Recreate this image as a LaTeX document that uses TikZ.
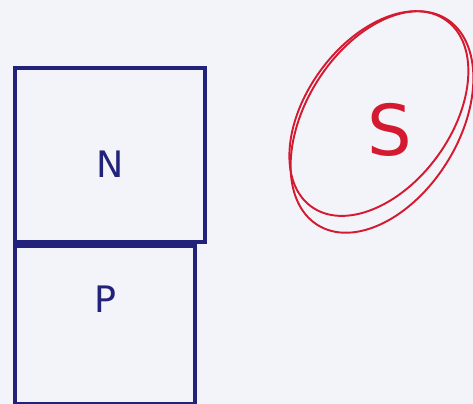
\documentclass[tikz,border=0pt]{standalone}
\usepackage{fontspec}
\setsansfont{DejaVu Sans}
\usetikzlibrary{positioning,calc}
\definecolor{ink}{HTML}{22227A}
\definecolor{pen}{HTML}{D41A30}
\definecolor{paper}{HTML}{F3F4F9}

\begin{document}
\begin{tikzpicture}[
    box/.style={rectangle,draw=ink,line width=2.2pt,inner sep=0pt},
    ring/.style={draw=pen,line width=1.1pt},
    letter/.style={font=\sffamily\huge,text=ink},
  ]
  %% paper
  \fill[paper] (0,0) rectangle (9.46,8.08);
  \useasboundingbox (0,0) rectangle (9.46,8.08);

  %% stacked layers
  \node[box,minimum width=3.8cm,minimum height=3.48cm,
        label={[letter,yshift=-0.18cm]center:N}] (N) at (2.2,4.98) {};
  \node[box,minimum width=3.6cm,minimum height=3.16cm,anchor=north west,
        label={[letter,yshift=0.52cm]center:P}] (P) at (N.south west) {};

  %% circled S
  \node[font=\sffamily\fontsize{40}{40}\selectfont,text=pen] (S) at (7.8,5.48) {S};
  \coordinate (c) at (7.64,5.64);
  \draw[ring,rotate around={58:(c)}] (c) ellipse (2.43cm and 1.53cm);
  \draw[ring,rotate around={54:(c)}] ($(c)+(0.1,0.15)$) ellipse (2.3cm and 1.45cm);
\end{tikzpicture}
\end{document}
